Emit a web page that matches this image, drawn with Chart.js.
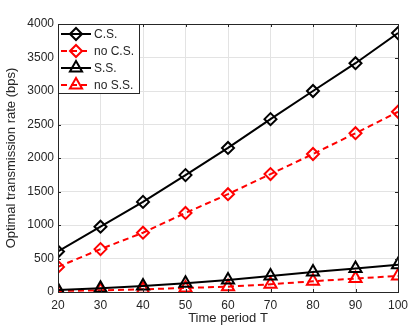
<!DOCTYPE html>
<html>
<head>
<meta charset="utf-8">
<script src="https://cdn.jsdelivr.net/npm/chart.js@4/dist/chart.umd.min.js"></script>
<style>
  html, body { margin: 0; padding: 0; background: #fff; }
  #wrap { width: 416px; height: 328px; }
</style>
</head>
<body>
<div id="wrap"><canvas id="myChart" width="416" height="328"></canvas></div>
<script>
const periods = [20, 30, 40, 50, 60, 70, 80, 90, 100];
const csRate = [605, 975, 1345, 1745, 2150, 2580, 3000, 3415, 3865];
const noCsRate = [375, 640, 885, 1180, 1460, 1760, 2060, 2370, 2690];
const ssRate = [30, 55, 90, 130, 180, 240, 300, 350, 405];
const noSsRate = [15, 25, 40, 60, 80, 115, 160, 200, 240];
const seriesNames = ["C.S.", "no C.S.", "S.S.", "no S.S."];

const axisColor = "#262626";
const font = "'Liberation Sans', Arial, sans-serif";

function series(label, values, color, dashed, marker, radius) {
  return {
    label: label,
    data: periods.map((p, i) => ({ x: p, y: values[i] })),
    borderColor: color,
    borderWidth: 2,
    borderDash: dashed ? [6, 4] : [],
    pointStyle: marker,
    pointRadius: radius,
    pointBorderWidth: 2,
    pointBorderColor: color,
    pointBackgroundColor: "rgba(0,0,0,0)",
    fill: false,
  };
}

// box, inward ticks and MATLAB-style legend
const matlabBox = {
  id: "matlabBox",
  afterDatasetsDraw(chart) {
    const { ctx, chartArea: a, scales } = chart;
    ctx.save();
    ctx.strokeStyle = axisColor;
    ctx.lineWidth = 1;
    ctx.strokeRect(a.left + 0.5, a.top + 0.5, a.right - a.left, a.bottom - a.top);
    ctx.beginPath();
    scales.x.ticks.forEach(t => {
      const x = Math.round(scales.x.getPixelForValue(t.value)) + 0.5;
      ctx.moveTo(x, a.bottom); ctx.lineTo(x, a.bottom - 3);
      ctx.moveTo(x, a.top); ctx.lineTo(x, a.top + 3);
    });
    scales.y.ticks.forEach(t => {
      const y = Math.round(scales.y.getPixelForValue(t.value)) + 0.5;
      ctx.moveTo(a.left, y); ctx.lineTo(a.left + 3, y);
      ctx.moveTo(a.right, y); ctx.lineTo(a.right - 3, y);
    });
    ctx.stroke();

    // legend
    const lx = a.left, ly = a.top, lw = 81, lh = 69;
    ctx.fillStyle = "#fff";
    ctx.fillRect(lx, ly, lw, lh);
    ctx.strokeStyle = axisColor;
    ctx.strokeRect(lx + 0.5, ly + 0.5, lw, lh);
    ctx.font = "12px " + font;
    ctx.textBaseline = "middle";
    chart.data.datasets.forEach((ds, i) => {
      const y = ly + 10 + i * 17;
      ctx.strokeStyle = ds.borderColor;
      ctx.lineWidth = 2;
      ctx.setLineDash(ds.borderDash);
      ctx.beginPath();
      ctx.moveTo(lx + 3, y); ctx.lineTo(lx + 33, y);
      ctx.stroke();
      ctx.setLineDash([]);
      ctx.fillStyle = "rgba(0,0,0,0)";
      Chart.helpers.drawPoint(ctx, {
        pointStyle: ds.pointStyle, radius: ds.pointRadius, borderWidth: 2
      }, lx + 18, y);
      ctx.fillStyle = axisColor;
      ctx.fillText(ds.label, lx + 36, y + 1);
    });
    ctx.restore();
  }
};

const ctx = document.getElementById("myChart").getContext("2d");

const config = {
  type: "line",
  data: {
    datasets: [
      series(seriesNames[0], csRate, "#000000", false, "rectRot", 6),
      series(seriesNames[1], noCsRate, "#ff0000", true, "rectRot", 6),
      series(seriesNames[2], ssRate, "#000000", false, "triangle", 7),
      series(seriesNames[3], noSsRate, "#ff0000", true, "triangle", 7),
    ],
  },
  options: {
    responsive: false,
    animation: false,
    layout: { padding: { top: 24, right: 18, left: 0, bottom: 0 } },
    plugins: { legend: { display: false }, tooltip: { enabled: false } },
    scales: {
      x: {
        type: "linear",
        min: 20,
        max: 100,
        afterFit: s => { s.height = 36; },
        ticks: { stepSize: 10, color: axisColor, font: { family: font, size: 12 }, padding: 6, maxRotation: 0,
          callback: v => String(v) },
        grid: { color: "#e3e3e3", drawTicks: false },
        border: { color: axisColor },
        title: { display: true, text: "Time period T", color: axisColor, font: { family: font, size: 13 }, padding: { top: 0, bottom: 2 } },
      },
      y: {
        min: 0,
        max: 4000,
        afterFit: s => { s.width = 58; },
        ticks: { stepSize: 500, color: axisColor, font: { family: font, size: 12 }, padding: 4,
          callback: v => String(v) },
        grid: { color: "#e3e3e3", drawTicks: false },
        border: { color: axisColor },
        title: { display: true, text: "Optimal transmission rate (bps)", color: axisColor, font: { family: font, size: 13 }, padding: { top: 4, bottom: 0 } },
      },
    },
  },
  plugins: [matlabBox],
};

const myChart = new Chart(ctx, config);
</script>
</body>
</html>
